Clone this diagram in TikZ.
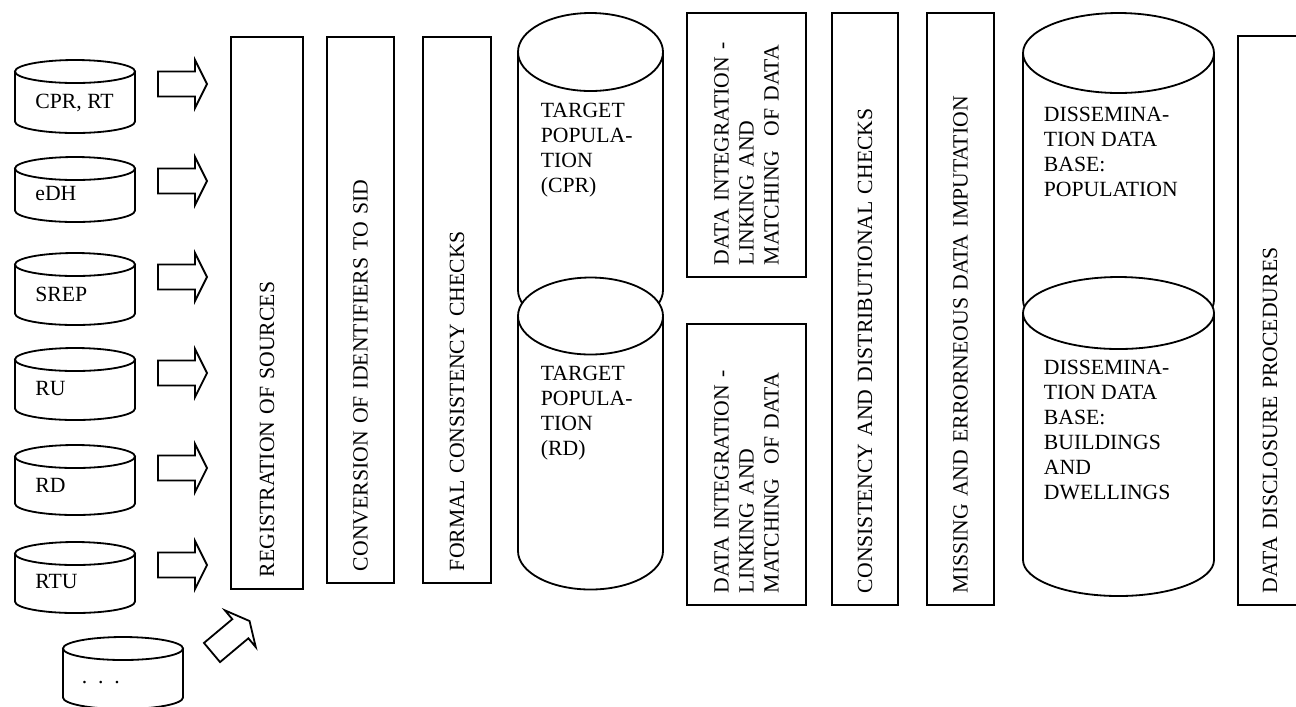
\documentclass[tikz,border=0pt]{standalone}
\usepackage{fontspec}
\setmainfont{Liberation Serif}

% cylinder: centre x, y of top ellipse, y of bottom ellipse, x radius, y radius
\newcommand{\dbcyl}[5]{%
  \path [draw, fill=white] (#1-#4,#2) -- (#1-#4,#3) arc [start angle=180, end angle=0, x radius=#4, y radius=#5] -- (#1+#4,#2) -- cycle;
  \path [draw, fill=white] (#1,#2) ellipse [x radius=#4, y radius=#5];%
}

\tikzset{
  stage/.style={draw, rotate=90, align=left, inner xsep=6.6pt, inner ysep=0pt},
  dblabel/.style={anchor=north west, align=left, inner sep=0pt},
  srclabel/.style={anchor=base west, inner sep=0pt},
  blockarrow/.pic={
    \path [draw, fill=white] (0,-12.5) -- (37,-12.5) -- (37,-24) -- (49,0) -- (37,24) -- (37,12.5) -- (0,12.5) -- cycle;
  }
}

\begin{document}
\begin{tikzpicture}[x=0.553pt, y=-0.553pt, line width=1pt, font=\fontsize{12}{13.8}\selectfont]

\useasboundingbox (0,0) rectangle (1296,706);

% sources
\dbcyl{75}{71.5}{121.5}{60}{11.5}
\dbcyl{75}{168.5}{210.5}{60}{11.5}
\dbcyl{75}{264.5}{313.5}{60}{11.5}
\dbcyl{75}{359.5}{408.5}{60}{11.5}
\dbcyl{75}{456.5}{503.5}{60}{11.5}
\dbcyl{75}{553.5}{601.5}{60}{11.5}
\dbcyl{123}{648.5}{697.5}{60}{11.5}

\node [srclabel] (cpr)  at (34.5,108) {CPR, RT};
\node [srclabel] (edh)  at (34.5,200) {eDH};
\node [srclabel] (srep) at (34.5,301) {SREP};
\node [srclabel] (ru)   at (34.5,395) {RU};
\node [srclabel] (rd)   at (34.5,492) {RD};
\node [srclabel] (rtu)  at (34.5,588) {RTU};
\node [srclabel] (more) at (81,683)   {.~~.~~.};

\pic at (158,84)  {blockarrow};
\pic at (158,181) {blockarrow};
\pic at (158,277) {blockarrow};
\pic at (158,373) {blockarrow};
\pic at (158,468) {blockarrow};
\pic at (158,565) {blockarrow};
\pic [rotate=40] at (212,652.5) {blockarrow};

% processing steps
\node [stage, text width=292.1pt, minimum height=39.8pt] (reg)    at (267,313)     {REGISTRATION OF SOURCES};
\node [stage, text width=288.7pt, minimum height=37.1pt] (conv)   at (360.5,310)   {CONVERSION OF IDENTIFIERS TO SID};
\node [stage, text width=288.7pt, minimum height=37.6pt] (formal) at (457,310)     {FORMAL CONSISTENCY CHECKS};

% target populations
\dbcyl{590.5}{52}{290}{72.5}{39}
\dbcyl{590.5}{316}{551}{72.5}{38.5}
\node [dblabel] (tgtcpr) at (540,102) {TARGET\\POPULA-\\TION\\(CPR)};
\node [dblabel] (tgtrd)  at (540,365) {TARGET\\POPULA-\\TION\\(RD)};

\node [stage, text width=132.8pt, minimum height=65.8pt] (integ1) at (746.5,145)   {DATA INTEGRATION -\\LINKING AND\\MATCHING\ \ OF DATA};
\node [stage, text width=142.2pt, minimum height=65.8pt] (integ2) at (746.5,464.5) {DATA INTEGRATION -\\LINKING AND\\MATCHING\ \ OF DATA};
\node [stage, text width=314.2pt, minimum height=36.5pt] (cons)   at (865,309)     {CONSISTENCY AND DISTRIBUTIONAL CHECKS};
\node [stage, text width=314.2pt, minimum height=37.1pt] (miss)   at (960.5,309)   {MISSING AND ERRORNEOUS DATA IMPUTATION};

% dissemination data bases
\dbcyl{1118.5}{53}{300}{95.5}{40}
\dbcyl{1118.5}{313}{560}{95.5}{36}
\node [dblabel] (dispop) at (1043,106) {DISSEMINA-\\TION DATA\\BASE:\\POPULATION};
\node [dblabel] (disbld) at (1043,359) {DISSEMINA-\\TION DATA\\BASE:\\BUILDINGS\\AND\\DWELLINGS};

\node [stage, text width=301.5pt, minimum height=35.4pt] (discl)  at (1270,320.5)  {DATA DISCLOSURE PROCEDURES};

\end{tikzpicture}
\end{document}
